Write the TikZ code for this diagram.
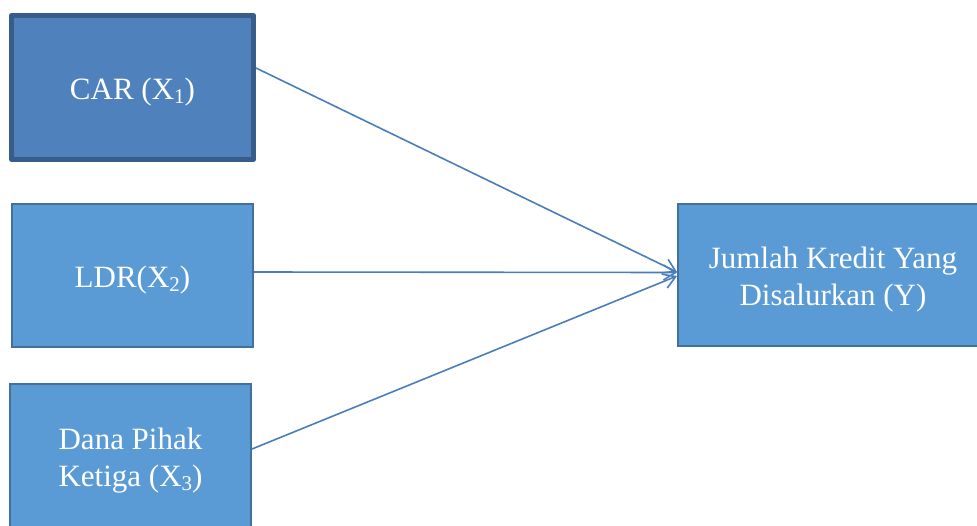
\documentclass[tikz,border=0pt]{standalone}
\usepackage{fontspec}
\setmainfont{Liberation Serif}
\usetikzlibrary{arrows.meta}
\definecolor{carfill}{HTML}{4F81BD}
\definecolor{carline}{HTML}{385D8A}
\definecolor{boxfill}{HTML}{5B9BD5}
\definecolor{boxline}{HTML}{41719C}
\definecolor{arrowc}{HTML}{4A7EBB}
\newcommand{\sbx}[1]{\raisebox{-0.12em}{\fontsize{21}{21}\selectfont #1}}
\tikzset{
  varbox/.style={rectangle, fill=boxfill, draw=boxline, line width=2pt},
  carbox/.style={varbox, fill=carfill, draw=carline, line width=5pt, line join=round},
  lbl/.style={text=white, font=\fontsize{31}{37}\selectfont, align=center, inner sep=0pt},
  link/.style={draw=arrowc, line width=1.6pt, -{Straight Barb[length=12pt, width=15pt, line width=1.6pt]}}
}
\begin{document}
\begin{tikzpicture}[x=1pt, y=-1pt]
\useasboundingbox (0,0) rectangle (977,525);
\node[carbox, minimum width=242pt, minimum height=144pt] (car) at (132.5,87.5) {};
\node[varbox, minimum width=241pt, minimum height=143pt] (ldr) at (132.5,275.5) {};
\node[varbox, minimum width=241pt, minimum height=143pt] (dpk) at (130.5,455.5) {};
\node[varbox, minimum width=310pt, minimum height=142pt] (y) at (833,275) {};
\node[lbl] (cart) at ([yshift=-5pt]car.center) {CAR (X\sbx{1})};
\node[lbl] (ldrt) at ([yshift=-5pt]ldr.center) {LDR(X\sbx{2})};
\node[lbl] (dpkt) at ([yshift=-5pt]dpk.center) {Dana Pihak\\Ketiga (X\sbx{3})};
\node[lbl] (yt) at ([yshift=-4.5pt]y.center) {Jumlah Kredit Yang\\Disalurkan (Y)};
\draw[link] ([yshift=19.5pt]car.east) -- ([yshift=3pt]y.west);
\draw[link] ([yshift=3.5pt]ldr.east) -- ([yshift=2.5pt]y.west);
\draw[link] ([yshift=6.5pt]dpk.east) -- ([yshift=-1pt]y.west);
\end{tikzpicture}
\end{document}
